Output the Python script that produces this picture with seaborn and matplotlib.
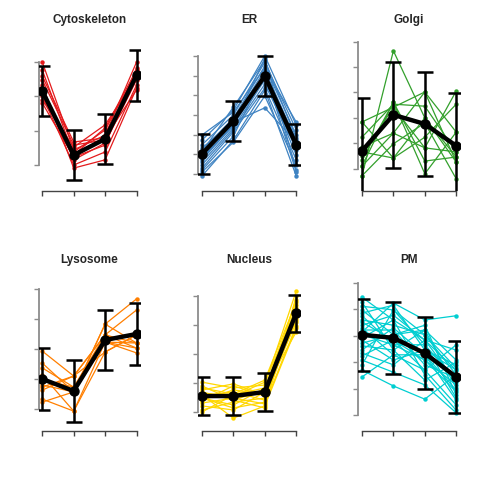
import matplotlib
matplotlib.use('Agg')
import numpy as np
import pandas as pd
import seaborn as sns
import matplotlib.pyplot as plt

fractions = [1, 2, 3, 4]
compartments = ['Cytoskeleton', 'ER', 'Golgi', 'Lysosome', 'Nucleus', 'PM']

colors = {'Cytoskeleton': '#E41A1C', 'ER': '#3F83C2', 'Golgi': '#33A02C',
          'Lysosome': '#FF7F00', 'Nucleus': '#FFD700', 'PM': '#00CED1'}

# individual protein profiles (one row per protein, one value per fraction)
cytoskeleton = [
    [0.400, 0.144, 0.187, 0.400],
    [0.377, 0.129, 0.208, 0.377],
    [0.348, 0.158, 0.173, 0.362],
    [0.324, 0.115, 0.164, 0.348],
    [0.313, 0.138, 0.202, 0.371],
    [0.301, 0.100, 0.138, 0.333],
    [0.290, 0.152, 0.217, 0.354],
    [0.333, 0.091, 0.115, 0.324],
    [0.281, 0.123, 0.158, 0.383],
    [0.359, 0.167, 0.179, 0.319],
]
er = [
    [0.186, 0.262, 0.400, 0.224],
    [0.174, 0.250, 0.384, 0.212],
    [0.161, 0.242, 0.374, 0.199],
    [0.148, 0.237, 0.364, 0.186],
    [0.141, 0.227, 0.354, 0.174],
    [0.136, 0.224, 0.344, 0.161],
    [0.130, 0.217, 0.339, 0.148],
    [0.123, 0.212, 0.328, 0.166],
    [0.115, 0.207, 0.318, 0.136],
    [0.110, 0.196, 0.359, 0.105],
    [0.095, 0.186, 0.313, 0.095],
    [0.156, 0.270, 0.389, 0.191],
    [0.166, 0.232, 0.268, 0.181],
    [0.199, 0.257, 0.369, 0.232],
    [0.105, 0.181, 0.298, 0.123],
    [0.141, 0.222, 0.394, 0.110],
]
golgi = [
    [0.136, 0.382, 0.250, 0.173],
    [0.155, 0.281, 0.140, 0.222],
    [0.175, 0.271, 0.301, 0.163],
    [0.193, 0.220, 0.191, 0.303],
    [0.212, 0.277, 0.273, 0.183],
    [0.242, 0.171, 0.212, 0.277],
    [0.136, 0.199, 0.240, 0.130],
    [0.167, 0.281, 0.165, 0.173],
    [0.183, 0.171, 0.250, 0.163],
    [0.242, 0.271, 0.191, 0.183],
    [0.155, 0.220, 0.301, 0.222],
]
lysosome = [
    [0.294, 0.211, 0.348, 0.431],
    [0.254, 0.158, 0.384, 0.468],
    [0.238, 0.174, 0.324, 0.321],
    [0.174, 0.211, 0.348, 0.304],
    [0.134, 0.094, 0.291, 0.348],
    [0.124, 0.158, 0.324, 0.288],
    [0.198, 0.174, 0.348, 0.321],
    [0.214, 0.094, 0.324, 0.304],
    [0.164, 0.211, 0.291, 0.348],
    [0.181, 0.158, 0.384, 0.321],
]
nucleus = [
    [0.203, 0.183, 0.193, 0.517],
    [0.190, 0.141, 0.176, 0.486],
    [0.176, 0.197, 0.159, 0.469],
    [0.166, 0.155, 0.203, 0.452],
    [0.155, 0.169, 0.141, 0.434],
    [0.148, 0.124, 0.183, 0.424],
    [0.141, 0.176, 0.162, 0.410],
    [0.131, 0.148, 0.128, 0.397],
    [0.121, 0.107, 0.169, 0.445],
    [0.107, 0.134, 0.148, 0.459],
    [0.159, 0.079, 0.121, 0.390],
    [0.183, 0.162, 0.210, 0.479],
    [0.138, 0.190, 0.155, 0.417],
    [0.148, 0.114, 0.134, 0.438],
    [0.100, 0.159, 0.183, 0.376],
    [0.169, 0.141, 0.114, 0.500],
]
pm = [
    [0.373, 0.330, 0.292, 0.235],
    [0.364, 0.273, 0.311, 0.254],
    [0.356, 0.349, 0.283, 0.216],
    [0.349, 0.302, 0.320, 0.188],
    [0.343, 0.358, 0.273, 0.245],
    [0.338, 0.283, 0.254, 0.207],
    [0.330, 0.320, 0.302, 0.226],
    [0.326, 0.292, 0.235, 0.169],
    [0.320, 0.339, 0.292, 0.273],
    [0.315, 0.264, 0.264, 0.197],
    [0.311, 0.311, 0.245, 0.220],
    [0.307, 0.362, 0.330, 0.338],
    [0.302, 0.283, 0.283, 0.182],
    [0.296, 0.330, 0.226, 0.159],
    [0.292, 0.254, 0.273, 0.235],
    [0.286, 0.302, 0.311, 0.201],
    [0.281, 0.273, 0.216, 0.250],
    [0.273, 0.315, 0.264, 0.178],
    [0.267, 0.245, 0.292, 0.213],
    [0.262, 0.292, 0.254, 0.194],
    [0.254, 0.231, 0.207, 0.154],
    [0.235, 0.205, 0.180, 0.226],
    [0.222, 0.264, 0.235, 0.283],
    [0.245, 0.349, 0.302, 0.239],
]
profiles = {'Cytoskeleton': cytoskeleton, 'ER': er, 'Golgi': golgi,
            'Lysosome': lysosome, 'Nucleus': nucleus, 'PM': pm}

# mean profile and error bar half-width per compartment
means = {
    'Cytoskeleton': [0.316, 0.129, 0.176, 0.362],
    'ER': [0.151, 0.235, 0.349, 0.174],
    'Golgi': [0.185, 0.256, 0.238, 0.195],
    'Lysosome': [0.201, 0.161, 0.331, 0.351],
    'Nucleus': [0.155, 0.155, 0.169, 0.441],
    'PM': [0.302, 0.296, 0.267, 0.222],
}
sds = {
    'Cytoskeleton': [0.073, 0.074, 0.074, 0.074],
    'ER': [0.050, 0.051, 0.051, 0.052],
    'Golgi': [0.104, 0.104, 0.103, 0.104],
    'Lysosome': [0.102, 0.102, 0.100, 0.102],
    'Nucleus': [0.064, 0.064, 0.064, 0.064],
    'PM': [0.068, 0.068, 0.068, 0.068],
}
yticks = {
    'Cytoskeleton': [0.1, 0.2, 0.3, 0.4],
    'ER': [0.10, 0.15, 0.20, 0.25, 0.30, 0.35, 0.40],
    'Golgi': [0.15, 0.20, 0.25, 0.30, 0.35, 0.40],
    'Lysosome': [0.1, 0.2, 0.3, 0.4, 0.5],
    'Nucleus': [0.1, 0.2, 0.3, 0.4, 0.5],
    'PM': [0.15, 0.20, 0.25, 0.30, 0.35, 0.40],
}

# layout
ylims = {
    'Cytoskeleton': (0.0242, 0.4644),
    'ER': (0.0569, 0.4401),
    'Golgi': (0.1061, 0.4033),
    'Lysosome': (0.0277, 0.531),
    'Nucleus': (0.0345, 0.5552),
    'PM': (0.1197, 0.4057),
}
col_left = [38.5, 198.2, 358.2]
row_bottom = [289, 49]
ax_w, ax_h = 101.8, 151

sns.set_style('white')
plt.rcParams['font.family'] = ['Liberation Sans', 'DejaVu Sans']

fig = plt.figure(figsize=(4.8, 4.8), dpi=100)

for k, name in enumerate(compartments):
    r, c = divmod(k, 3)
    ax = fig.add_axes([col_left[c] / 480, row_bottom[r] / 480, ax_w / 480, ax_h / 480])

    rows = []
    for i, prof in enumerate(profiles[name]):
        for f, v in zip(fractions, prof):
            rows.append({'protein': i, 'fraction': f, 'value': v})
    df = pd.DataFrame(rows)

    sns.lineplot(data=df, x='fraction', y='value', units='protein', estimator=None,
                 color=colors[name], lw=0.9, marker='o', markersize=3.2,
                 markeredgewidth=0, legend=False, ax=ax)

    ax.errorbar(fractions, means[name], yerr=sds[name], color='black', lw=3.2,
                marker='o', markersize=6.5, elinewidth=1.8, capsize=5.5,
                capthick=1.8, zorder=5)

    ax.set_xlim(0.88, 4.12)
    ax.set_ylim(*ylims[name])
    ax.set_xticks(fractions)
    ax.set_yticks(yticks[name])
    ax.set_xticklabels([])
    ax.set_yticklabels([])
    ax.set_xlabel('')
    ax.set_ylabel('')

    for s in ['top', 'right']:
        ax.spines[s].set_visible(False)
    ax.spines['left'].set_bounds(yticks[name][0], yticks[name][-1])
    ax.spines['bottom'].set_bounds(1, 4)
    ax.spines['left'].set_color('#8c8c8c')
    ax.spines['left'].set_linewidth(1.3)
    ax.spines['bottom'].set_color('#444444')
    ax.spines['bottom'].set_linewidth(1.0)
    ax.tick_params(axis='y', left=True, length=3.8, width=1.0, color='#8c8c8c')
    ax.tick_params(axis='x', bottom=True, length=3.8, width=1.0, color='#444444')

    ax.text(0.5, 1 + 20 / ax_h, name, transform=ax.transAxes, ha='center',
            va='center', fontsize=8.5, fontweight='bold')

fig.savefig('out.png', dpi=100)
